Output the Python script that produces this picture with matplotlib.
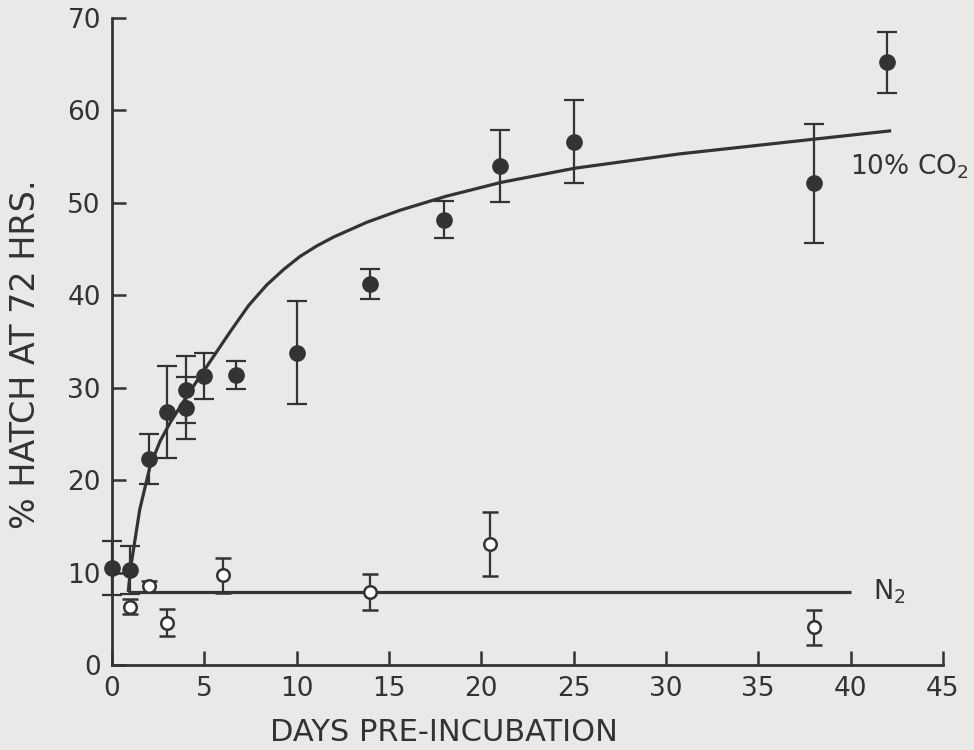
import matplotlib
matplotlib.use("Agg")
import matplotlib.pyplot as plt

# ---- data ----
co2_days = [0, 1, 2, 3, 4, 4, 5, 6.7, 10, 14, 18, 21, 25, 38, 42]
co2_pct = [10.5, 10.3, 22.3, 27.4, 29.8, 27.8, 31.3, 31.4, 33.8, 41.2, 48.2, 54.0, 56.6, 52.1, 65.2]
co2_err = [2.9, 2.6, 2.7, 5.0, 3.6, 3.4, 2.5, 1.5, 5.6, 1.6, 2.0, 3.9, 4.5, 6.4, 3.3]

n2_days = [1, 2, 3, 6, 14, 20.5, 38]
n2_pct = [6.3, 8.5, 4.6, 9.7, 7.9, 13.1, 4.1]
n2_err = [0.8, 0.6, 1.45, 1.9, 2.0, 3.45, 1.9]

# fitted curve (CO2)
co2_fit_x = [0.88, 1.0, 1.5, 2.06, 2.6, 3.14, 4.22, 5.3, 6.45, 7.4, 8.37, 9.3, 10.18,
             11.1, 12.0, 13.8, 15.6, 18.07, 21.04, 25.07, 30.75, 33.5, 38.06, 42.2]
co2_fit_y = [7.9, 10.4, 16.8, 21.5, 24.2, 26.2, 29.6, 32.8, 36.2, 38.9, 41.1, 42.8, 44.2,
             45.35, 46.3, 47.9, 49.2, 50.7, 52.2, 53.75, 55.3, 55.9, 56.9, 57.8]

# N2 level line
n2_fit_x = [0.88, 40.0]
n2_fit_y = [7.9, 7.9]

x_ticks = [0, 5, 10, 15, 20, 25, 30, 35, 40, 45]
y_ticks = [0, 10, 20, 30, 40, 50, 60, 70]

ink = "#333333"
bg = "#e9e9e7"

plt.rcParams['font.family'] = ['DejaVu Sans']
fig = plt.figure(figsize=(9.74, 7.5), dpi=100, facecolor=bg)
ax = fig.add_axes([0.115, 0.1133, 0.853, 0.8627])
ax.set_facecolor(bg)

ax.plot(co2_fit_x, co2_fit_y, color=ink, lw=2.3, zorder=2, solid_capstyle='butt',
        solid_joinstyle='round')
ax.plot(n2_fit_x, n2_fit_y, color=ink, lw=2.3, zorder=2, solid_capstyle='butt')

ax.errorbar(co2_days, co2_pct, yerr=co2_err, fmt='o', color=ink, ms=11,
            mfc=ink, mec=ink, ecolor=ink, elinewidth=1.6, capsize=7, capthick=1.6,
            zorder=4, clip_on=False)
ax.errorbar(n2_days, n2_pct, yerr=n2_err, fmt='o', color=ink, ms=9,
            mfc='white', mec=ink, mew=1.8, ecolor=ink, elinewidth=1.6, capsize=6,
            capthick=1.6, zorder=4, clip_on=False)

ax.text(39.95, 53.9, "10% CO$_2$", fontsize=19, color=ink, ha='left', va='center')
ax.text(41.2, 7.9, "N$_2$", fontsize=19.5, color=ink, ha='left', va='center')

ax.set_xlim(0, 45)
ax.set_ylim(0, 70)
ax.set_xticks(x_ticks)
ax.set_yticks(y_ticks)
ax.set_xticklabels([str(t) for t in x_ticks])
ax.set_yticklabels([str(t) for t in y_ticks])
for s in ['top', 'right']:
    ax.spines[s].set_visible(False)
for s in ['left', 'bottom']:
    ax.spines[s].set_color(ink)
    ax.spines[s].set_linewidth(2.0)
ax.tick_params(direction='in', length=10, width=1.8, color=ink, labelcolor=ink,
               labelsize=19, pad=8)

ax.set_xlabel("DAYS PRE-INCUBATION", fontsize=22, color=ink)
ax.xaxis.set_label_coords(0.40, -0.082)
ax.set_ylabel("% HATCH AT 72 HRS.", fontsize=24, color=ink)
ax.yaxis.set_label_coords(-0.084, 0.48)

fig.savefig("out.png", dpi=100, facecolor=bg)
